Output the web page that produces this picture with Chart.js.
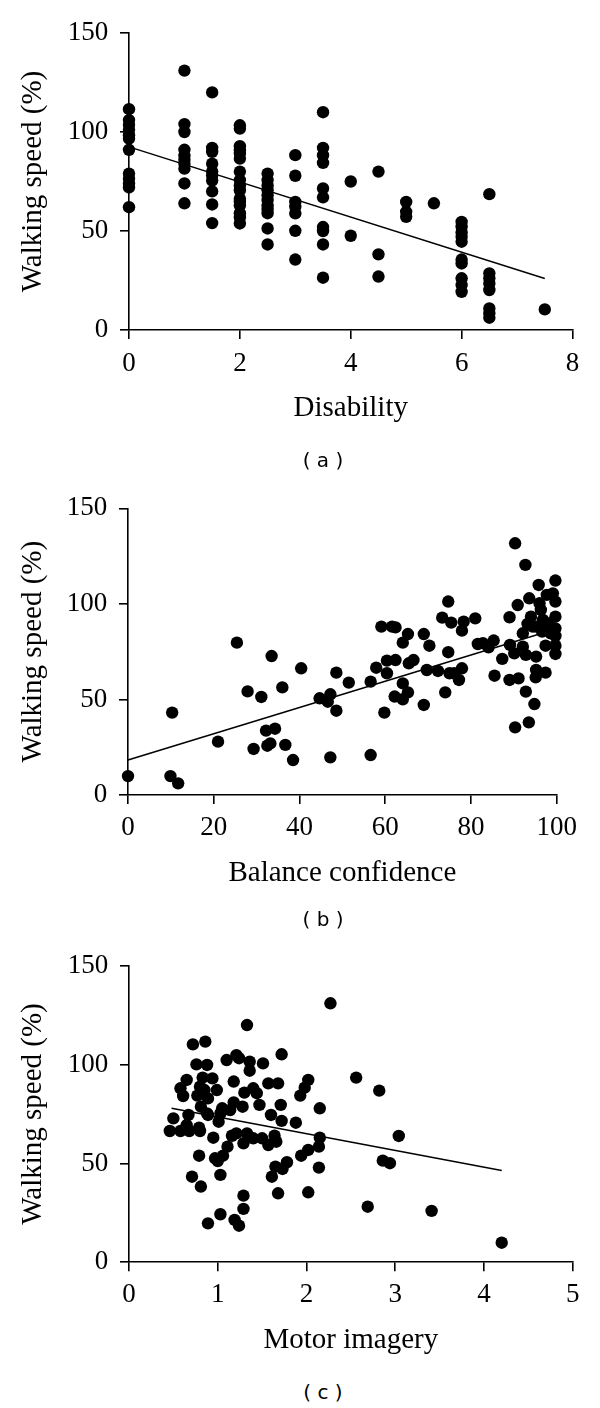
<!DOCTYPE html>
<html>
<head>
<meta charset="utf-8">
<script src="https://cdn.jsdelivr.net/npm/chart.js@4.4.0/dist/chart.umd.min.js"></script>
<style>
  body { margin: 0; background: #fff; width: 600px; height: 1408px; position: relative; overflow: hidden; }
  canvas { position: absolute; left: 0; }
  .cap { position: absolute; left: 223px; width: 200px; text-align: center;
         font: 20px "DejaVu Sans", sans-serif; line-height: 24px; color: #000; white-space: pre; }
</style>
</head>
<body>
<canvas id="chartA" width="600" height="440" style="top:0px"></canvas>
<canvas id="chartB" width="600" height="440" style="top:470px"></canvas>
<canvas id="chartC" width="600" height="440" style="top:930px"></canvas>
<div class="cap" style="top:448px">( a )</div>
<div class="cap" style="top:907px">( b )</div>
<div class="cap" style="top:1380px">( c )</div>
<script>
// (a) disability vs walking speed
const disabilityX = [
  0,0,0,0,0,0,0,0,0,0,0,0,
  1,1,1,1,1,1,1,1,1,1,
  1.5,1.5,1.5,1.5,1.5,1.5,1.5,1.5,1.5,1.5,
  2,2,2,2,2,2,2,2,2,2,2,2,2,2,2,2,
  2.5,2.5,2.5,2.5,2.5,2.5,2.5,2.5,2.5,2.5,2.5,
  3,3,3,3,3,3,3,
  3.5,3.5,3.5,3.5,3.5,3.5,3.5,3.5,3.5,3.5,
  4,4,
  4.5,4.5,4.5,
  5,5,5,
  5.5,
  6,6,6,6,6,6,6,6,6,6,
  6.5,6.5,6.5,6.5,6.5,6.5,6.5,6.5,
  7.5
];
const disabilitySpeed = [
  111.5,106,103.7,101.2,98.4,96.7,91,79,76.5,74,72,62,
  131,104,100,91,88,86,84,81.5,74,64,
  120,92,90,84,80,78,75.5,70,63.4,54,
  103.4,101.7,92.8,90.8,89,86.6,80,75.7,73,70.6,66.4,64.7,63,59,57,53.8,
  79,75.7,73,70.6,68,65.6,63,61,59,51.3,43.2,
  88.3,77.9,64.7,62.2,58.9,50.1,35.6,
  110,92,88.3,84.4,71.5,67,52,50,43.2,26.4,
  75,47.6,
  80,38.2,27,
  64.7,59.7,57.2,
  64,
  54.6,52.1,49.3,47.1,44.6,35.6,33.6,26.1,22.7,19.3,
  68.6,28.6,26.1,23.5,20.2,10.9,8.4,6.2,
  10.4
];
const disabilityFitX = [0, 7.5];
const disabilityFitY = [92.5, 26];

// (b) balance confidence vs walking speed
const balanceX = [
  0,9.9,11.7,10.3,21,25.4,27.9,31.1,29.3,32.2,34.3,32.5,33.2,33.5,36,36.7,38.5,40.4,
  44.7,46.6,47.2,48.6,48.6,47.2,51.5,56.6,56.6,57.9,59.1,59.8,60.4,60.4,61.6,62.4,
  62.4,62.2,64.1,64.1,65.3,64.1,65.3,65.5,66.6,69,69,70.3,69.7,72.3,73.3,74.7,75.4,
  74.7,74,75,76.1,77.2,77.9,77.9,78.3,81,81.6,82.8,84.1,85.3,85.5,87.3,89,89.1,89,
  90.3,90.9,90.3,90.1,91.1,92.1,92.1,92.7,92.8,92.8,93.5,93.6,94,94.4,94.8,95.2,95.2,
  95.1,95.8,96,96.3,96,96.6,97.4,97.4,97.7,98.3,99.1,99.7,99.7,99.7,99.7,99.7,99.7,
  99.7,98.6,93.2,95.2,96.8
];
const balanceSpeed = [
  9.9,9.9,6.1,43.1,27.9,79.7,54.2,51.3,24.1,33.7,34.7,25.8,27,72.7,56.3,26.2,18.3,66.3,
  50.6,48.8,52.7,44.1,64,19.7,58.8,59.3,20.9,66.6,88.1,43.1,63.7,70.3,88.1,87.7,
  70.6,51.5,50.1,58.4,53.7,79.7,84.2,68.9,70.6,84.2,47.1,78.1,65.4,64.9,92.8,101.2,90.2,
  74.7,53.7,63.7,63.7,60.2,66.3,86,90.7,92.4,79,79.4,77.3,80.8,62.4,71.2,93,78.5,60.2,
  131.7,99.4,35.4,74.1,61,77.6,84.6,120.4,73.3,54.1,38,102.9,93.3,88.1,47.6,72.4,65.4,
  61.6,109.9,100.3,96.8,88.1,85.5,78.1,64,104.7,89.8,105.5,112.2,101.2,93.3,87.2,83.2,
  78.1,73.8,84.6,89.5,88.1,91.6
];
const balanceFitX = [0, 100];
const balanceFitY = [18.3, 87];

// (c) motor imagery vs walking speed
const imageryX = [
  0.46,0.58,0.50,0.58,0.65,0.61,0.67,0.65,0.68,0.72,0.76,0.80,0.79,0.79,0.71,0.81,
  0.77,0.80,0.83,0.81,0.86,0.88,0.85,0.89,0.88,0.94,0.99,0.89,0.95,0.97,0.89,1.01,
  1.03,1.05,1.00,1.06,1.11,1.03,1.03,1.10,1.18,1.14,1.21,1.24,1.30,1.28,1.18,1.16,
  1.21,1.29,1.33,1.33,1.36,1.36,1.40,1.44,1.47,1.40,1.50,1.51,1.19,1.24,1.29,1.29,
  1.57,1.60,1.57,1.68,1.72,1.71,1.72,1.64,1.66,1.65,1.73,1.78,1.61,1.68,1.88,1.93,
  1.98,2.02,1.94,2.02,2.14,2.15,2.15,2.14,2.02,2.27,2.56,2.82,3.04,2.86,2.94,2.69,
  3.41,4.20
];
const imagerySpeed = [
  66.4,66.4,72.8,88,92.2,84.1,74.5,69.4,66.4,110.2,100.1,66.4,68.1,53.9,43.3,38.3,
  84.3,88.8,93.4,78.7,111.6,99.8,87.1,82.9,75.3,93,87.1,74.5,63,52.6,19.7,71.1,
  75.3,77.9,51.2,53.9,58.5,44.2,24.3,102.3,91.4,77,104.8,103.2,85.8,78.7,80.9,64,
  65.2,60.2,65.2,120,101.5,96.9,88,85.5,79.6,62.7,62.7,100.6,21.4,18.5,33.7,27,
  59.3,74.5,90.5,90.5,105.2,79.6,71.5,64,61,48.4,47.2,50.6,43.3,34.9,70.6,84.3,
  88.3,92.2,53.9,56.8,58.5,63,77.9,47.9,35.4,131,93.4,86.8,63.9,51.4,50.1,28.1,
  26,9.9
];
const imageryFitX = [0.48, 4.2];
const imageryFitY = [77.9, 46.4];

const speedTicks = { min: 0, max: 150, step: 50 };

const serif = 'Liberation Serif, Times New Roman, serif';

function pairs(xs, ys) {
  return xs.map((x, i) => ({ x: x, y: ys[i] }));
}

// box positions are in canvas pixels
function makeChart(id, p) {
  const ctx = document.getElementById(id).getContext('2d');
  const titleHalf = 29 * 1.2 / 2;
  return new Chart(ctx, {
    type: 'scatter',
    data: {
      datasets: [{
        data: pairs(p.xs, p.ys),
        pointRadius: 6.2,
        pointHoverRadius: 6.2,
        pointBackgroundColor: '#000',
        pointBorderWidth: 0,
        showLine: false,
        clip: false
      }, {
        data: pairs(p.fitX, p.fitY),
        showLine: true,
        pointRadius: 0,
        borderColor: '#000',
        borderWidth: 1.5,
        clip: false
      }]
    },
    options: {
      responsive: false,
      animation: false,
      devicePixelRatio: 1,
      layout: {
        padding: {
          left: 0,
          top: p.plotTop,
          right: 600 - p.plotRight,
          bottom: p.height - (p.titleMid + titleHalf)
        }
      },
      plugins: { legend: { display: false }, tooltip: { enabled: false } },
      scales: {
        x: {
          type: 'linear',
          min: p.xMin, max: p.xMax,
          ticks: { stepSize: p.xStep, color: '#000', padding: p.tickPad,
                   font: { family: serif, size: 27 } },
          grid: { drawOnChartArea: false, drawTicks: true, tickLength: 9, color: '#000', lineWidth: 1.6 },
          border: { display: true, color: '#000', width: 1.6 },
          title: { display: true, text: p.xTitle, color: '#000', padding: 0,
                   font: { family: serif, size: 29 } },
          afterFit: s => { s.height = p.titleMid - p.plotBottom + titleHalf; }
        },
        y: {
          type: 'linear',
          min: speedTicks.min, max: speedTicks.max,
          ticks: { stepSize: speedTicks.step, color: '#000', padding: 11.7,
                   font: { family: serif, size: 27 } },
          grid: { drawOnChartArea: false, drawTicks: true, tickLength: 9, color: '#000', lineWidth: 1.6 },
          border: { display: true, color: '#000', width: 1.6 },
          title: { display: true, text: 'Walking speed (%)', color: '#000',
                   padding: { top: 16.1, bottom: 0 },
                   font: { family: serif, size: 29 } },
          afterFit: s => { s.width = p.plotLeft; }
        }
      }
    }
  });
}

makeChart('chartA', {
  xs: disabilityX, ys: disabilitySpeed, fitX: disabilityFitX, fitY: disabilityFitY,
  xMin: 0, xMax: 8, xStep: 2, xTitle: 'Disability',
  height: 440, plotTop: 33, plotBottom: 330, plotLeft: 129, plotRight: 572.5,
  tickPad: 9.2, titleMid: 407.9
});

makeChart('chartB', {
  xs: balanceX, ys: balanceSpeed, fitX: balanceFitX, fitY: balanceFitY,
  xMin: 0, xMax: 100, xStep: 20, xTitle: 'Balance confidence',
  height: 440, plotTop: 38.3, plotBottom: 325, plotLeft: 128, plotRight: 556.7,
  tickPad: 7.9, titleMid: 403.2
});

makeChart('chartC', {
  xs: imageryX, ys: imagerySpeed, fitX: imageryFitX, fitY: imageryFitY,
  xMin: 0, xMax: 5, xStep: 1, xTitle: 'Motor imagery',
  height: 440, plotTop: 35.7, plotBottom: 332.3, plotLeft: 129, plotRight: 572.7,
  tickPad: 7.3, titleMid: 409.9
});
</script>
</body>
</html>
